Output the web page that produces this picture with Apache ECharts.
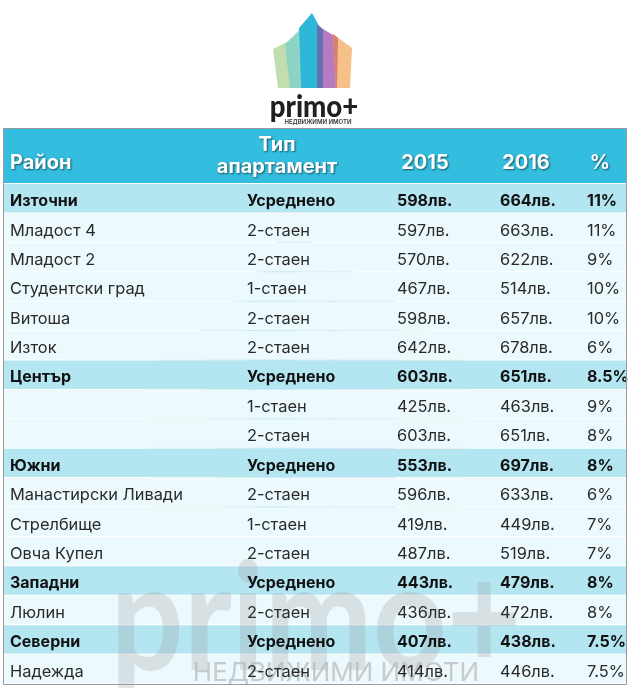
<!DOCTYPE html>
<html>
<head>
<meta charset="utf-8">
<script src="https://cdn.jsdelivr.net/npm/echarts@6/dist/echarts.min.js"></script>
<style>
html,body{margin:0;padding:0;background:#fff;}
#chart{width:632px;height:688px;}
</style>
</head>
<body>
<div id="chart"></div>
<script>
// ---- data ----
const headers = ['Район', 'Тип\nапартамент', '2015', '2016', '%'];
const districts = ['Източни','Младост 4','Младост 2','Студентски град','Витоша','Изток','Център','','','Южни','Манастирски Ливади','Стрелбище','Овча Купел','Западни','Люлин','Северни','Надежда'];
const aptTypes = ['Усреднено','2-стаен','2-стаен','1-стаен','2-стаен','2-стаен','Усреднено','1-стаен','2-стаен','Усреднено','2-стаен','1-стаен','2-стаен','Усреднено','2-стаен','Усреднено','2-стаен'];
const price2015 = [598,597,570,467,598,642,603,425,603,553,596,419,487,443,436,407,414];
const price2016 = [664,663,622,514,657,678,651,463,651,697,633,449,519,479,472,438,446];
const change = [11,11,9,10,10,6,8.5,9,8,8,6,7,7,8,8,7.5,7.5];
const avgLabel = 'Усреднено';

// ---- layout / style ----
const FONT = 'Inter, "Open Sans", sans-serif';
const colX = [10, 247, 397, 500, 587];
const tableLeft = 4, tableRight = 626;
const rowIdx = districts.map((d, i) => String(i));

function renderBg(params, api) {
  const r = api.value(0);
  const avg = aptTypes[r] === avgLabel;
  const p0 = api.coord([tableLeft, r]);
  const p1 = api.coord([tableRight, r]);
  const h = api.size([0, 1])[1];
  return {
    type: 'rect',
    shape: {x: p0[0], y: p0[1] - h / 2, width: p1[0] - p0[0], height: h - 1},
    style: {fill: avg ? '#b4e6f2' : '#ecf9fd'}
  };
}

function renderText(params, api) {
  const r = api.value(0);
  const avg = aptTypes[r] === avgLabel;
  const cells = [districts[r], aptTypes[r], price2015[r] + 'лв.', price2016[r] + 'лв.', change[r] + '%'];
  const children = cells.map((t, c) => {
    const p = api.coord([colX[c], r]);
    return {
      type: 'text',
      x: p[0], y: p[1] + 2.5,
      style: {
        text: t,
        fill: avg ? '#111' : '#2a2a2a',
        font: (avg ? '700 ' : '400 ') + (avg ? '16px ' : '16.4px ') + FONT,
        align: 'left', verticalAlign: 'middle',
        textAlign: 'left', textVerticalAlign: 'middle'
      }
    };
  });
  return {type: 'group', children};
}

const headerShadow = {textShadowColor: 'rgba(0,0,0,0.55)', textShadowBlur: 2, textShadowOffsetX: 1, textShadowOffsetY: 1};
function headerText(t, x, y, align) {
  return {type: 'text', z: 10, x, y, style: Object.assign({
    text: t, fill: '#fff', font: '700 20px ' + FONT, align: align, verticalAlign: 'middle', lineHeight: 22
  }, headerShadow)};
}

const chart = echarts.init(document.getElementById('chart'), null, {renderer: 'canvas'});
chart.setOption({
  animation: false,
  backgroundColor: '#ffffff',
  grid: {left: 0, right: 0, top: 184, height: 500},
  xAxis: {type: 'value', min: 0, max: 632, show: false},
  yAxis: {type: 'category', data: rowIdx, inverse: true, show: false},
  series: [
    {type: 'custom', z: 1, renderItem: renderBg, data: rowIdx.map(Number), silent: true},
    {type: 'custom', z: 5, renderItem: renderText, data: rowIdx.map(Number), silent: true}
  ],
  graphic: {elements: [
    // header band
    {type: 'rect', z: 1, shape: {x: 4, y: 129, width: 622, height: 54}, style: {fill: '#33bddf'}},
    headerText(headers[0], 10, 163, 'left'),
    headerText(headers[1], 277, 156, 'center'),
    headerText(headers[2], 425, 163, 'center'),
    headerText(headers[3], 526, 163, 'center'),
    headerText(headers[4], 600, 163, 'center'),
    // table border
    {type: 'rect', z: 9, shape: {x: 3.5, y: 128.5, width: 623, height: 556}, style: {fill: 'none', stroke: '#9a9a9a', lineWidth: 1}},
    // watermark logo inside table
    {type: 'group', z: 3, children: [
      {type: 'polygon', shape: {points: [[143,370],[250,300],[255,533],[155,533]]}, style: {fill: '#d8ecd0', opacity: 0.4}},
      {type: 'polygon', shape: {points: [[200,330],[300,240],[290,533],[225,533]]}, style: {fill: '#bfe6e6', opacity: 0.4}},
      {type: 'polygon', shape: {points: [[245,290],[295,215],[340,285],[330,533],[255,533]]}, style: {fill: '#9fdcec', opacity: 0.4}},
      {type: 'polygon', shape: {points: [[330,255],[400,305],[395,533],[330,533]]}, style: {fill: '#d9cfe8', opacity: 0.5}},
      {type: 'polygon', shape: {points: [[390,300],[470,365],[460,533],[405,533]]}, style: {fill: '#f3e6d3', opacity: 0.5}}
    ]},
    {type: 'text', z: 4, x: 316, y: 622, scaleX: 0.86, style: {text: 'primo+', fill: '#9a9a9a', opacity: 0.26, font: '700 150px Lato, sans-serif', align: 'center', verticalAlign: 'middle'}},
    {type: 'text', z: 4, x: 336, y: 673, style: {text: 'НЕДВИЖИМИ ИМОТИ', fill: '#b8b8b8', opacity: 0.7, font: '400 26px ' + FONT, align: 'center', verticalAlign: 'middle'}},
    // top logo
    {type: 'group', z: 2, children: [
      {type: 'polygon', shape: {points: [[273,49],[297,37],[300,88],[278,88]]}, style: {fill: '#c3deae'}},
      {type: 'polygon', shape: {points: [[285,44],[308,22],[306,88],[290,88]]}, style: {fill: '#86d2c7', opacity: 0.9}},
      {type: 'polygon', shape: {points: [[299,28],[312,13],[318,24],[318,88],[301,88]]}, style: {fill: '#2fb7d8'}},
      {type: 'polygon', shape: {points: [[317,24],[324,30],[324,88],[317,88]]}, style: {fill: '#6470b0'}},
      {type: 'polygon', shape: {points: [[323,29],[338,38],[337,88],[323,88]]}, style: {fill: '#b67bc1'}},
      {type: 'polygon', shape: {points: [[333,34],[352,48],[350,88],[336,88]]}, style: {fill: '#f5be82', opacity: 0.95}},
      {type: 'polygon', shape: {points: [[333,34],[338,38],[337,88],[336,88]]}, style: {fill: '#d9806a'}}
    ]},
    {type: 'text', z: 2, x: 314, y: 107, scaleX: 0.92, style: {text: 'primo+', fill: '#231f20', font: '900 30px Lato, sans-serif', align: 'center', verticalAlign: 'middle'}},
    {type: 'text', z: 2, x: 318, y: 122, style: {text: 'НЕДВИЖИМИ ИМОТИ', fill: '#333', font: '600 6px ' + FONT, align: 'center', verticalAlign: 'middle'}}
  ]}
});
</script>
</body>
</html>
